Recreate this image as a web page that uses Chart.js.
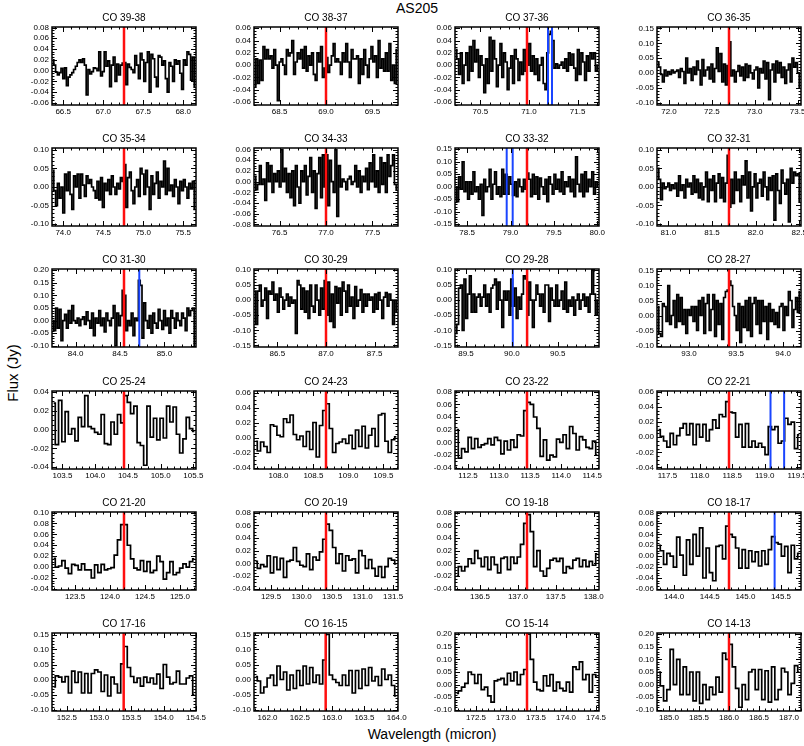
<!DOCTYPE html>
<html>
<head>
<meta charset="utf-8">
<title>AS205 CO lines</title>
<script src="https://cdn.jsdelivr.net/npm/chart.js@4.4.0/dist/chart.umd.min.js"></script>
<style>
  body { margin: 0; background: #fff; }
  #page { position: relative; width: 804px; height: 746px; overflow: hidden; background: #fff;
          font-family: 'Liberation Sans', Arial, sans-serif; }
  canvas { position: absolute; }
  .label { position: absolute; color: #000; white-space: nowrap; }
</style>
</head>
<body>
<div id="page">
  <div class="label" style="left:417px; top:8px; font-size:14px; transform: translate(-50%,-50%);">AS205</div>
  <div class="label" style="left:12px; top:373px; font-size:15px; transform: translate(-50%,-50%) rotate(-90deg);">Flux (Jy)</div>
  <div class="label" style="left:432px; top:734px; font-size:14px; transform: translate(-50%,-50%);">Wavelength (micron)</div>
</div>
<script>
// panel titles, row by row
const titles = [
  'CO 39-38', 'CO 38-37', 'CO 37-36', 'CO 36-35',
  'CO 35-34', 'CO 34-33', 'CO 33-32', 'CO 32-31',
  'CO 31-30', 'CO 30-29', 'CO 29-28', 'CO 28-27',
  'CO 25-24', 'CO 24-23', 'CO 23-22', 'CO 22-21',
  'CO 21-20', 'CO 20-19', 'CO 19-18', 'CO 18-17',
  'CO 17-16', 'CO 16-15', 'CO 15-14', 'CO 14-13'
];

// red line: CO line wavelength (micron)
const lineCentre = [
  67.26, 69.0, 70.98, 72.70,
  74.76, 77.0, 79.19, 81.695,
  84.545, 87.0, 90.166, 93.425,
  104.44, 108.68, 113.45, 118.45,
  124.2, 130.4, 137.12, 144.77,
  153.38, 162.9, 173.35, 186.0
];

// blue lines: other species
const blueLines = [
  [], [], [71.196, 71.237], [],
  [], [], [78.956, 79.025], [],
  [84.717], [], [90.01], [],
  [], [], [], [119.09, 119.30],
  [], [], [], [145.41],
  [], [], [], []
];

// wavelength range of each panel
const xLow = [
  66.36, 68.225, 70.24, 71.86,
  73.86, 76.225, 78.36, 80.87,
  83.735, 86.26, 89.38, 92.66,
  103.34, 107.65, 112.29, 117.34,
  123.17, 129.22, 136.17, 143.76,
  152.27, 161.79, 172.15, 184.8
];
const xHigh = [
  68.16, 69.775, 71.72, 73.54,
  75.66, 77.775, 80.02, 82.52,
  85.355, 87.74, 90.95, 94.19,
  105.54, 109.71, 114.61, 119.56,
  125.23, 131.58, 138.07, 145.78,
  154.5, 164.02, 174.55, 187.2
];

// flux range and tick spacing (Jy)
const yLow = [
  -0.064, -0.065, -0.065, -0.108,
  -0.105, -0.083, -0.157, -0.106,
  -0.105, -0.155, -0.155, -0.105,
  -0.042, -0.042, -0.042, -0.042,
  -0.042, -0.042, -0.042, -0.062,
  -0.105, -0.105, -0.105, -0.105
];
const yHigh = [
  0.081, 0.062, 0.062, 0.155,
  0.105, 0.063, 0.155, 0.105,
  0.205, 0.103, 0.103, 0.155,
  0.041, 0.062, 0.081, 0.061,
  0.101, 0.081, 0.081, 0.081,
  0.155, 0.155, 0.205, 0.205
];
const yStep = [
  0.02, 0.02, 0.02, 0.05,
  0.05, 0.02, 0.05, 0.05,
  0.05, 0.05, 0.05, 0.05,
  0.02, 0.02, 0.02, 0.02,
  0.02, 0.02, 0.02, 0.02,
  0.05, 0.05, 0.05, 0.05
];

// spectra (Jy), bins evenly spread over each panel
const fluxCO3938 = [0.020, 0.010, -0.003, -0.008, -0.004, 0.004, -0.015, 0.005, -0.028, -0.012, -0.008, -0.004, 0.002, 0.008, 0.015, 0.020, 0.015, 0.022, 0.010, -0.045, 0.002, -0.006, -0.002, 0.005, 0.004, 0.000, 0.035, -0.010, -0.002, 0.035, 0.008, 0.018, -0.030, 0.010, 0.025, -0.020, 0.012, -0.008, 0.010, 0.014,
  0.015, -0.026, 0.012, 0.006, 0.002, -0.004, 0.028, 0.010, -0.015, 0.032, 0.020, -0.020, 0.015, 0.035, -0.040, 0.030, 0.022, -0.012, -0.030, 0.028, 0.025, 0.010, 0.018, -0.015, -0.040, 0.015, 0.008, -0.020, 0.020, 0.012, 0.018, -0.005, -0.035, 0.020, 0.010, 0.035, 0.030, -0.018, 0.025, -0.030];
const fluxCO3837 = [-0.035, 0.010, -0.030, 0.008, -0.025, 0.030, 0.010, 0.025, 0.010, 0.015, -0.005, 0.025, 0.000, -0.058, 0.005, 0.010, 0.000, -0.015, 0.025, 0.015, 0.020, 0.040, -0.015, 0.005, 0.020, 0.010, 0.025, -0.005, 0.030, -0.010, 0.015, 0.000, 0.020, -0.015, -0.025, 0.020, 0.005, 0.030, -0.020, -0.005,
  0.012, -0.012, 0.000, 0.015, 0.035, 0.005, 0.010, 0.005, -0.015, 0.020, 0.005, 0.035, 0.005, -0.020, 0.025, 0.010, 0.010, 0.015, -0.030, 0.010, -0.015, 0.025, 0.000, -0.020, 0.010, 0.030, 0.005, 0.015, -0.020, 0.040, -0.005, 0.010, -0.010, 0.020, -0.010, 0.035, -0.025, 0.000, -0.030, 0.025];
const fluxCO3736 = [0.025, 0.010, -0.015, 0.020, -0.030, 0.000, 0.020, -0.025, 0.030, -0.010, 0.040, 0.005, 0.025, -0.020, 0.015, 0.000, -0.045, 0.010, -0.030, 0.045, -0.010, 0.040, 0.010, -0.035, 0.000, 0.035, -0.020, 0.020, 0.005, -0.040, -0.005, 0.015, -0.030, 0.025, 0.010, -0.025, 0.005, -0.015, 0.025, -0.010,
  0.000, 0.035, -0.010, 0.015, -0.015, 0.010, -0.025, 0.000, 0.012, -0.030, -0.040, 0.020, 0.050, 0.055, 0.040, -0.005, 0.002, -0.005, 0.000, 0.005, -0.005, 0.010, -0.010, 0.020, 0.000, 0.018, -0.005, -0.025, 0.025, -0.015, 0.020, 0.005, -0.025, 0.015, -0.010, 0.020, 0.010, 0.020, -0.010, 0.000];
const fluxCO3635 = [0.035, 0.020, -0.005, -0.030, 0.010, -0.010, 0.005, -0.005, 0.010, 0.000, 0.005, 0.010, -0.015, 0.015, 0.005, -0.035, 0.050, 0.000, 0.015, -0.025, 0.020, -0.005, 0.040, 0.010, -0.040, 0.045, -0.010, 0.010, 0.020, -0.020, 0.030, -0.030, 0.015, 0.085, 0.005, 0.065, -0.030, 0.030, -0.040, 0.025,
  0.105, -0.010, 0.010, -0.030, 0.005, 0.025, -0.010, 0.020, -0.025, 0.030, -0.015, 0.025, 0.000, -0.020, 0.010, 0.020, -0.050, 0.015, 0.000, 0.040, -0.020, 0.035, -0.090, 0.010, 0.030, -0.030, 0.040, 0.000, 0.035, -0.015, 0.020, -0.035, 0.010, 0.030, -0.030, 0.050, 0.020, 0.035, 0.000, -0.050];
const fluxCO3534 = [0.045, -0.010, -0.050, 0.010, -0.030, 0.000, -0.070, 0.035, -0.010, 0.040, -0.020, -0.060, 0.030, 0.000, 0.035, -0.030, 0.035, 0.005, -0.025, 0.030, 0.010, 0.020, 0.000, -0.010, -0.030, 0.015, -0.035, 0.025, -0.055, 0.010, -0.010, 0.020, -0.020, 0.030, 0.000, -0.020, 0.010, -0.005, 0.025, 0.015,
  0.060, -0.055, 0.025, 0.040, -0.010, -0.045, 0.000, 0.020, -0.025, 0.050, 0.035, -0.020, 0.045, 0.000, -0.060, 0.030, -0.020, 0.010, 0.040, -0.030, 0.015, 0.000, 0.070, -0.020, 0.050, -0.010, 0.005, -0.025, 0.020, 0.000, -0.045, 0.015, -0.010, 0.020, 0.000, -0.030, 0.010, -0.005, 0.015, -0.060];
const fluxCO3433 = [0.010, -0.015, -0.005, 0.030, -0.005, 0.005, -0.035, 0.035, 0.000, 0.030, -0.020, 0.015, 0.000, 0.020, -0.010, 0.060, 0.000, 0.025, -0.020, 0.015, -0.030, 0.020, -0.045, 0.030, -0.010, -0.040, 0.020, 0.000, 0.030, -0.025, 0.010, 0.045, -0.020, 0.020, -0.050, 0.015, 0.045, -0.030, 0.050, -0.010,
  0.050, -0.045, 0.040, 0.000, -0.020, 0.060, -0.065, 0.030, -0.010, 0.005, 0.000, -0.015, 0.005, 0.010, -0.005, 0.000, 0.030, -0.010, 0.020, -0.020, 0.010, 0.000, 0.025, -0.015, 0.035, 0.000, 0.050, -0.010, 0.020, -0.020, 0.045, -0.005, 0.035, -0.020, 0.050, 0.010, 0.030, 0.050, -0.005, -0.015];
const fluxCO3332 = [0.000, -0.060, 0.040, -0.010, 0.100, -0.020, 0.020, -0.050, 0.020, -0.030, 0.060, -0.020, 0.000, -0.050, 0.010, -0.115, 0.030, -0.020, 0.000, 0.070, -0.050, 0.010, 0.060, -0.030, 0.000, -0.040, 0.070, -0.030, 0.050, -0.030, 0.040, 0.010, -0.035, 0.020, -0.040, 0.030, 0.000, -0.020, 0.030, -0.010,
  0.055, 0.030, -0.040, 0.050, -0.030, 0.040, -0.050, 0.035, 0.000, -0.030, 0.030, -0.060, 0.040, 0.010, -0.030, 0.050, -0.010, 0.030, -0.020, 0.060, -0.030, 0.020, 0.000, 0.040, -0.020, 0.030, -0.040, 0.120, 0.010, -0.020, 0.050, -0.040, 0.060, -0.020, 0.030, 0.000, 0.060, -0.030, 0.020, 0.000];
const fluxCO3231 = [0.050, 0.020, -0.035, 0.010, -0.005, 0.000, 0.010, -0.010, 0.005, -0.005, 0.010, -0.025, 0.030, -0.010, 0.005, -0.030, 0.020, 0.000, 0.010, -0.020, 0.030, -0.015, 0.020, -0.030, 0.010, -0.035, 0.000, 0.040, -0.040, 0.020, -0.010, 0.030, -0.040, 0.010, 0.035, -0.030, 0.025, -0.040, 0.010, 0.085,
  -0.055, 0.020, -0.045, 0.040, -0.010, 0.020, -0.040, 0.030, 0.005, 0.070, -0.030, 0.040, -0.065, 0.000, 0.035, -0.030, 0.010, 0.020, -0.025, 0.040, 0.000, -0.035, 0.025, -0.010, 0.030, -0.090, 0.035, -0.010, -0.045, 0.045, 0.010, -0.020, 0.020, -0.095, 0.050, 0.010, 0.040, 0.030, 0.035, -0.040];
const fluxCO3130 = [0.000, -0.040, 0.050, -0.030, 0.045, -0.080, 0.000, 0.025, -0.030, 0.040, -0.010, 0.060, 0.000, -0.010, 0.010, -0.020, 0.005, 0.015, -0.015, 0.035, 0.000, -0.030, 0.030, -0.060, 0.010, -0.010, 0.040, -0.020, 0.010, -0.045, 0.030, 0.000, -0.020, 0.010, 0.060, -0.100, 0.030, -0.020, 0.020, 0.120,
  0.100, -0.040, 0.000, -0.020, 0.030, -0.060, 0.010, 0.000, 0.160, 0.140, -0.070, 0.070, 0.000, -0.030, 0.020, -0.050, 0.030, -0.010, -0.030, 0.045, 0.000, -0.035, 0.040, -0.020, 0.010, -0.050, 0.040, 0.010, -0.030, 0.030, 0.000, -0.020, 0.030, 0.010, -0.040, 0.050, 0.020, 0.040, 0.050, -0.100];
const fluxCO3029 = [0.030, -0.080, 0.030, 0.050, -0.020, 0.000, 0.040, -0.060, 0.030, 0.020, 0.060, 0.000, 0.020, -0.040, 0.040, 0.010, -0.030, 0.000, 0.020, -0.020, 0.010, -0.010, 0.000, -0.110, 0.065, 0.050, -0.030, 0.040, -0.040, 0.030, -0.060, 0.050, -0.020, -0.040, 0.050, 0.000, -0.050, 0.040, -0.030, 0.065,
  -0.050, 0.060, -0.070, 0.020, -0.090, 0.045, -0.010, 0.040, -0.050, 0.060, 0.030, -0.040, 0.050, -0.020, 0.010, -0.060, 0.045, -0.020, 0.000, 0.035, -0.040, 0.020, -0.020, 0.020, 0.000, 0.010, -0.040, 0.020, -0.030, 0.025, 0.000, -0.060, 0.010, 0.025, -0.020, 0.020, 0.000, -0.080, 0.000, -0.040];
const fluxCO2928 = [-0.110, -0.080, 0.040, 0.050, -0.100, 0.070, -0.060, 0.020, 0.080, -0.040, 0.020, -0.040, 0.010, 0.020, -0.020, 0.010, 0.050, -0.020, 0.020, -0.040, 0.040, 0.050, 0.070, -0.030, 0.060, 0.000, -0.090, 0.030, 0.000, 0.030, -0.050, 0.070, -0.020, 0.040, -0.060, 0.010, -0.030, 0.020, 0.080, 0.070,
  -0.050, 0.060, 0.000, -0.090, 0.000, 0.050, 0.020, -0.020, 0.020, -0.040, 0.050, 0.050, -0.070, 0.040, 0.000, -0.020, 0.050, -0.020, 0.000, 0.030, -0.030, 0.060, -0.040, 0.000, -0.020, 0.010, -0.050, 0.000, 0.020, -0.030, 0.000, 0.020, -0.020, 0.010, -0.040, 0.020, 0.100, 0.020, -0.050, 0.000];
const fluxCO2827 = [0.030, -0.060, -0.070, 0.040, 0.030, -0.020, 0.100, -0.030, 0.000, 0.050, -0.040, 0.070, -0.020, 0.060, -0.030, 0.020, -0.060, 0.020, 0.000, 0.030, -0.020, 0.030, -0.050, 0.050, 0.000, 0.060, -0.060, 0.040, 0.070, -0.050, 0.020, 0.070, -0.070, 0.050, -0.030, 0.040, -0.080, 0.060, 0.080, 0.085,
  0.115, 0.100, 0.030, 0.000, -0.050, 0.040, -0.090, 0.030, -0.040, 0.050, -0.050, 0.060, -0.070, 0.040, 0.060, -0.030, 0.050, -0.060, 0.050, -0.020, 0.030, -0.080, 0.040, -0.020, 0.020, -0.030, 0.010, -0.040, 0.030, 0.040, -0.050, 0.030, 0.000, 0.080, 0.050, -0.040, 0.020, 0.060, 0.010, 0.080];
const fluxCO2524 = [0.028, -0.016, 0.031, -0.013, 0.019, -0.005, 0.001, -0.012, 0.013, 0.003, 0.036, 0.003, 0.001, -0.003, -0.005, 0.016, -0.015, -0.016, 0.008, -0.005, 0.016, 0.007,
  0.036, 0.029, 0.017, 0.025, -0.014, -0.017, -0.038, 0.025, -0.008, 0.012, -0.011, 0.012, -0.009, 0.025, 0.008, 0.024, -0.005, -0.025, -0.010, 0.013, 0.001, -0.002];
const fluxCO2423 = [-0.005, -0.018, -0.006, -0.012, -0.020, 0.017, 0.015, 0.003, 0.001, 0.025, 0.020, 0.030, 0.004, -0.003, 0.002, -0.012, 0.008, -0.016, 0.020, -0.026, 0.016, 0.036,
  0.045, 0.012, -0.020, -0.008, -0.006, -0.002, -0.008, 0.003, -0.015, 0.010, -0.012, 0.015, -0.014, 0.003, 0.012, -0.012, 0.030, 0.032, -0.005, -0.020, -0.003, 0.001];
const fluxCO2322 = [0.020, -0.025, -0.010, -0.015, 0.008, -0.010, 0.006, -0.008, -0.004, -0.002, 0.006, -0.004, 0.008, 0.003, -0.018, 0.002, -0.012, 0.004, -0.008, 0.012, 0.010, 0.050,
  0.063, 0.060, 0.040, 0.022, -0.022, 0.004, -0.028, -0.020, -0.023, 0.005, 0.000, 0.012, -0.010, 0.025, 0.014, -0.012, 0.009, 0.004, -0.008, -0.010, 0.002, -0.020];
const fluxCO2221 = [0.010, 0.001, -0.005, -0.013, 0.005, -0.010, 0.002, 0.012, 0.018, 0.003, 0.018, -0.010, 0.017, 0.000, 0.017, -0.005, 0.010, 0.023, 0.012, 0.030, 0.027, 0.047,
  0.033, 0.032, 0.000, 0.017, -0.013, 0.018, -0.013, -0.005, -0.013, -0.008, -0.013, -0.023, 0.014, 0.010, 0.014, -0.008, -0.005, 0.025, 0.017, 0.020, -0.015, 0.003];
const fluxCO2120 = [0.016, 0.000, 0.002, 0.012, -0.002, -0.012, 0.005, 0.003, -0.005, 0.006, -0.005, -0.005, -0.020, 0.004, -0.010, 0.005, -0.005, -0.003, -0.001, 0.022, 0.050, 0.078,
  0.078, 0.040, 0.015, -0.002, -0.005, 0.012, -0.008, 0.010, -0.010, -0.006, 0.020, 0.010, -0.022, -0.010, 0.010, -0.014, -0.010, -0.002, 0.006, 0.000, 0.010, 0.015];
const fluxCO2019 = [0.003, -0.008, -0.002, -0.005, 0.012, -0.015, 0.010, -0.010, 0.008, -0.022, 0.003, 0.005, 0.025, 0.003, -0.003, -0.005, 0.015, -0.010, 0.010, 0.005, 0.018, 0.038,
  0.062, 0.052, 0.025, 0.000, 0.015, -0.012, 0.012, 0.005, 0.007, -0.015, 0.020, 0.012, -0.008, 0.006, -0.008, -0.020, -0.005, -0.022, -0.005, 0.008, 0.005, -0.001];
const fluxCO1918 = [-0.020, -0.005, -0.012, -0.005, 0.007, 0.000, 0.020, 0.008, -0.005, 0.010, -0.010, 0.010, -0.002, -0.015, 0.008, 0.010, -0.010, 0.010, 0.000, 0.010, 0.030, 0.063,
  0.077, 0.050, -0.005, 0.020, -0.012, -0.020, -0.008, 0.005, 0.008, 0.003, 0.008, -0.015, -0.005, -0.008, 0.005, 0.008, -0.005, 0.005, -0.005, 0.003, -0.003, 0.015];
const fluxCO1817 = [0.020, 0.010, -0.015, 0.005, 0.000, -0.020, 0.035, 0.002, -0.035, 0.030, -0.015, 0.040, 0.000, 0.052, -0.040, 0.015, -0.030, -0.045, 0.018, 0.020, -0.005, 0.055,
  0.040, 0.035, 0.015, -0.022, 0.012, -0.022, 0.010, -0.010, 0.008, -0.018, 0.010, -0.015, 0.012, 0.036, 0.025, 0.022, 0.000, 0.018, -0.030, 0.020, -0.005, 0.005];
const fluxCO1716 = [-0.025, 0.012, 0.008, -0.008, 0.010, -0.045, 0.028, -0.010, 0.025, -0.045, 0.020, -0.045, 0.020, 0.032, 0.025, -0.040, 0.015, -0.055, 0.008, -0.015, -0.045, 0.052,
  0.110, 0.040, 0.010, -0.010, 0.005, -0.022, 0.008, -0.010, 0.005, -0.015, 0.018, -0.030, 0.050, 0.008, -0.015, -0.010, 0.028, -0.015, -0.015, 0.005, 0.012, -0.050];
const fluxCO1615 = [0.010, -0.005, -0.045, -0.025, 0.005, 0.015, -0.020, 0.045, 0.000, 0.025, -0.035, 0.015, -0.030, 0.030, -0.020, 0.045, -0.015, 0.040, -0.010, 0.015, -0.015, 0.065,
  0.150, 0.015, 0.000, -0.010, -0.020, 0.015, -0.020, 0.030, -0.045, 0.030, -0.030, 0.035, -0.020, 0.040, -0.005, 0.010, -0.020, 0.035, 0.000, 0.015, -0.020, -0.055];
const fluxCO1514 = [-0.035, -0.025, -0.010, 0.005, 0.050, 0.040, 0.005, 0.040, -0.020, -0.010, -0.045, -0.070, 0.015, 0.020, 0.025, 0.000, 0.045, 0.015, 0.050, 0.000, 0.040, 0.060,
  0.200, 0.100, 0.010, -0.020, -0.025, 0.035, -0.005, 0.040, -0.025, 0.010, -0.015, -0.025, 0.010, -0.030, 0.070, 0.060, 0.090, 0.020, 0.040, -0.030, 0.040, 0.030];
const fluxCO1413 = [0.050, -0.005, -0.065, -0.020, 0.140, 0.000, 0.100, -0.040, 0.070, -0.040, 0.050, -0.065, 0.050, -0.075, 0.000, -0.060, -0.010, -0.040, 0.030, -0.030, 0.125, 0.100,
  0.160, 0.070, -0.015, -0.090, 0.000, -0.060, 0.050, 0.060, -0.020, 0.060, -0.060, 0.055, -0.070, 0.070, -0.060, -0.020, 0.065, 0.050, -0.040, 0.005, 0.075, 0.050];

const fluxes = [
  fluxCO3938, fluxCO3837, fluxCO3736, fluxCO3635,
  fluxCO3534, fluxCO3433, fluxCO3332, fluxCO3231,
  fluxCO3130, fluxCO3029, fluxCO2928, fluxCO2827,
  fluxCO2524, fluxCO2423, fluxCO2322, fluxCO2221,
  fluxCO2120, fluxCO2019, fluxCO1918, fluxCO1817,
  fluxCO1716, fluxCO1615, fluxCO1514, fluxCO1413
];

// page layout (pixels)
const colLeft = [52, 254, 455, 657];
const rowTop = [27, 148, 269, 391, 512, 633];
const boxW = 144, boxH = 78;
const padL = 48, padT = 22, padR = 14, padB = 16;

Chart.defaults.font.family = "'Liberation Sans', Arial, Helvetica, sans-serif";
Chart.defaults.color = '#000';

// IDL-style box with inward ticks on all four sides
const framePlugin = {
  id: 'frame',
  afterDatasetsDraw(chart, args, opts) {
    const { ctx, chartArea: a, scales: { x, y } } = chart;
    ctx.save();
    ctx.strokeStyle = '#000';
    ctx.lineWidth = 1;
    ctx.beginPath();
    const k0 = Math.ceil(x.min * 10 - 1e-6), k1 = Math.floor(x.max * 10 + 1e-6);
    for (let k = k0; k <= k1; k++) {
      const px = Math.round(x.getPixelForValue(k / 10)) + 0.5;
      const len = k % 5 === 0 ? 5 : 2.5;
      ctx.moveTo(px, a.bottom); ctx.lineTo(px, a.bottom - len);
      ctx.moveTo(px, a.top); ctx.lineTo(px, a.top + len);
    }
    const m = opts.minor, per = opts.per;
    const j0 = Math.ceil(y.min / m - 1e-6), j1 = Math.floor(y.max / m + 1e-6);
    for (let j = j0; j <= j1; j++) {
      const py = Math.round(y.getPixelForValue(j * m)) + 0.5;
      const len = Math.abs(j % per) === 0 ? 5 : 2.5;
      ctx.moveTo(a.left, py); ctx.lineTo(a.left + len, py);
      ctx.moveTo(a.right, py); ctx.lineTo(a.right - len, py);
    }
    ctx.stroke();
    ctx.lineWidth = 1.5;
    ctx.strokeRect(a.left, a.top, a.width, a.height);
    ctx.restore();
  }
};

const page = document.getElementById('page');

titles.forEach((title, i) => {
  const col = i % 4, row = Math.floor(i / 4);
  const canvas = document.createElement('canvas');
  canvas.width = padL + boxW + padR;
  canvas.height = padT + boxH + padB;
  canvas.style.left = (colLeft[col] - padL) + 'px';
  canvas.style.top = (rowTop[row] - padT) + 'px';
  page.appendChild(canvas);

  const flux = fluxes[i];
  const binW = (xHigh[i] - xLow[i]) / flux.length;
  const spectrum = flux.map((f, k) => ({ x: xLow[i] + (k + 0.5) * binW, y: f }));

  const datasets = [];
  datasets.push({
    data: [{ x: lineCentre[i], y: yLow[i] }, { x: lineCentre[i], y: yHigh[i] }],
    borderColor: '#ff0f0f', borderWidth: 2.5
  });
  blueLines[i].forEach(b => {
    datasets.push({
      data: [{ x: b, y: yLow[i] }, { x: b, y: yHigh[i] }],
      borderColor: '#1a45ff', borderWidth: 2
    });
  });
  datasets.push({ data: spectrum, borderColor: '#000', borderWidth: 1.7, stepped: 'middle' });

  new Chart(canvas, {
    type: 'line',
    data: { datasets: datasets },
    options: {
      responsive: false,
      animation: false,
      events: [],
      layout: { autoPadding: false, padding: { left: 0, top: 0, right: padR, bottom: 0 } },
      elements: { point: { radius: 0 }, line: { tension: 0, fill: false } },
      scales: {
        x: {
          type: 'linear', min: xLow[i], max: xHigh[i],
          grid: { display: false, drawTicks: false },
          border: { display: false },
          ticks: {
            stepSize: 0.5, includeBounds: false, autoSkip: false, maxRotation: 0,
            padding: 2, font: { size: 8 }, color: '#000',
            callback: v => v.toFixed(1)
          },
          afterFit: s => { s.height = padB; s.paddingLeft = 0; s.paddingRight = 0; }
        },
        y: {
          type: 'linear', min: yLow[i], max: yHigh[i],
          grid: { display: false, drawTicks: false },
          border: { display: false },
          ticks: {
            stepSize: yStep[i], includeBounds: false, autoSkip: false,
            padding: 3, font: { size: 8 }, color: '#000',
            callback: v => (Math.abs(v) < 1e-9 ? 0 : v).toFixed(2)
          },
          afterFit: s => { s.width = padL; s.paddingTop = 0; s.paddingBottom = 0; }
        }
      },
      plugins: {
        legend: { display: false },
        tooltip: { enabled: false },
        title: {
          display: true, text: title, fullSize: false, color: '#000',
          font: { size: 10, weight: 'normal' },
          padding: { top: 7, bottom: 3 }
        },
        frame: { minor: yStep[i] === 0.02 ? 0.005 : 0.01, per: yStep[i] === 0.02 ? 4 : 5 }
      }
    },
    plugins: [framePlugin]
  });
});
</script>
</body>
</html>
